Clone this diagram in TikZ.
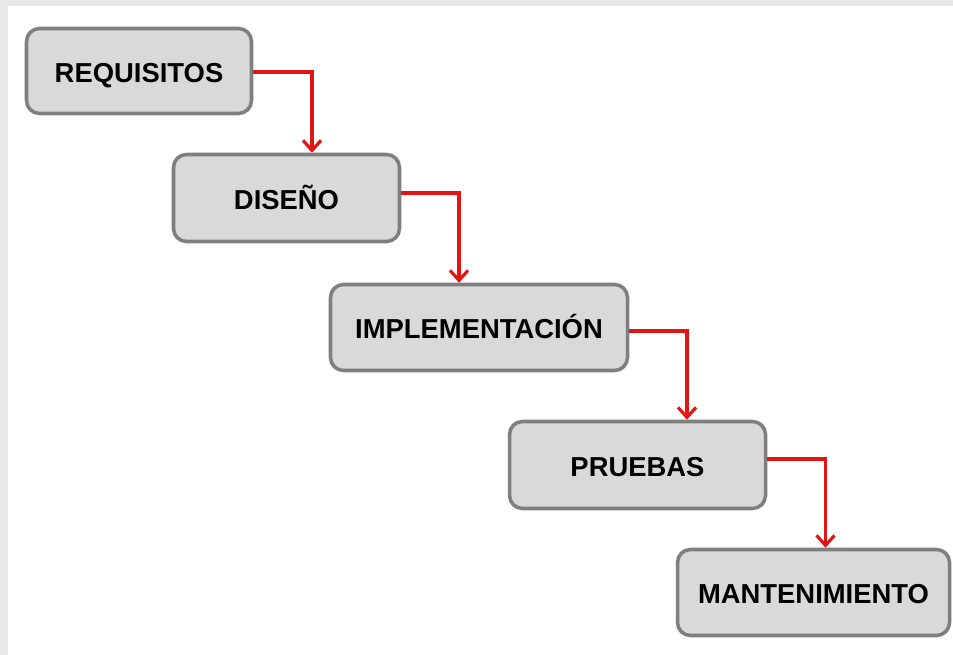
\documentclass[tikz,border=0pt]{standalone}
\usepackage{fontspec}
\setmainfont{Liberation Sans}
\usepackage{tikz}
\usetikzlibrary{positioning}
\usetikzlibrary{arrows.meta}
\definecolor{boxfill}{HTML}{D9D9D9}
\definecolor{boxline}{HTML}{7F7F7F}
\definecolor{flowred}{HTML}{E31414}
\definecolor{frame}{HTML}{E8E8E8}
\tikzset{
  phase/.style={
    draw=boxline,
    fill=boxfill,
    line width=2pt,
    rounded corners=0.26cm,
    align=center,
    font=\fontsize{15.6}{18}\selectfont\bfseries,
    text height=13pt,
    text depth=0pt,
    inner sep=0pt,
  },
  flow/.style={
    draw=flowred,
    line width=1.8pt,
    -{Straight Barb[length=0.2cm,width=0.36cm]},
  },
}

\begin{document}
\begin{tikzpicture}[x=0.02cm,y=-0.02cm]
    \fill[frame] (0,0) rectangle (953,655);
    \fill[white] (8,6) rectangle (953,655);
    \node[phase, minimum width=225*0.02cm, minimum height=85*0.02cm] (req) at (139,71) {REQUISITOS};
    \node[phase, minimum width=226*0.02cm, minimum height=87*0.02cm] (dis) at (286.5,198) {DISEÑO};
    \node[phase, minimum width=297*0.02cm, minimum height=86*0.02cm] (imp) at (479,327.5) {IMPLEMENTACIÓN};
    \node[phase, minimum width=256*0.02cm, minimum height=87*0.02cm] (pru) at (637.5,465) {PRUEBAS};
    \node[phase, minimum width=272*0.02cm, minimum height=86*0.02cm] (man) at (813.5,592.5) {MANTENIMIENTO};
    \draw[flow] ([yshift=-0.02cm]req.east) -| ([xshift=0.51cm]dis.north);
    \draw[flow] ([yshift=0.1cm]dis.east) -| ([xshift=-0.4cm]imp.north);
    \draw[flow] ([yshift=-0.07cm]imp.east) -| ([xshift=0.99cm]pru.north);
    \draw[flow] ([yshift=0.12cm]pru.east) -| ([xshift=0.24cm]man.north);
\end{tikzpicture}
\end{document}
